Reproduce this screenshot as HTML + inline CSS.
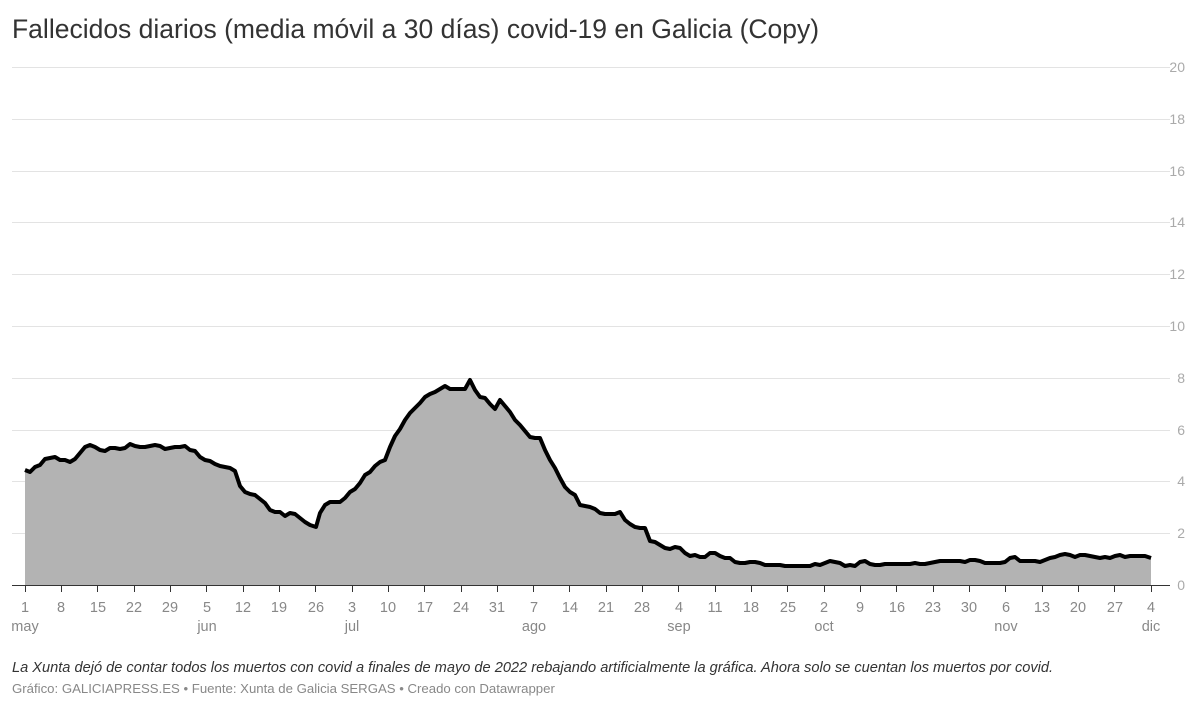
<!DOCTYPE html>
<html><head><meta charset="utf-8"><style>
body{margin:0;background:#fff;width:1199px;height:709px;overflow:hidden;font-family:"Liberation Sans",sans-serif}
</style></head><body>
<svg width="1199" height="709" xmlns="http://www.w3.org/2000/svg" font-family="Liberation Sans, sans-serif">
<text x="12" y="38" font-size="26.5" fill="#333">Fallecidos diarios (media móvil a 30 días) covid-19 en Galicia (Copy)</text>
<g stroke="#e3e3e3" stroke-width="1">
<line x1="12" x2="1170" y1="67.5" y2="67.5"/><line x1="12" x2="1170" y1="119.5" y2="119.5"/>
<line x1="12" x2="1170" y1="171.5" y2="171.5"/><line x1="12" x2="1170" y1="222.5" y2="222.5"/>
<line x1="12" x2="1170" y1="274.5" y2="274.5"/><line x1="12" x2="1170" y1="326.5" y2="326.5"/>
<line x1="12" x2="1170" y1="378.5" y2="378.5"/><line x1="12" x2="1170" y1="430.5" y2="430.5"/>
<line x1="12" x2="1170" y1="481.5" y2="481.5"/><line x1="12" x2="1170" y1="533.5" y2="533.5"/>
</g>
<g font-size="14" fill="#aaa" text-anchor="end">
<text x="1185" y="72">20</text><text x="1185" y="124">18</text><text x="1185" y="176">16</text>
<text x="1185" y="227">14</text><text x="1185" y="279">12</text><text x="1185" y="331">10</text>
<text x="1185" y="383">8</text><text x="1185" y="435">6</text><text x="1185" y="486">4</text>
<text x="1185" y="538">2</text><text x="1185" y="590">0</text>
</g>
<polygon fill="#b3b3b3" points="25,585 25,470 30,472 35,467 40,465 45,459 50,458 55,457 60,460 65,460 70,462 75,459 80,453 85,447 90,445 95,447 100,450 105,451 110,448 115,448 120,449 125,448 130,444 135,446 140,447 145,447 150,446 155,445 160,446 165,449 170,448 175,447 180,447 185,446 190,450 195,451 200,457 205,460 210,461 215,464 220,466 225,467 230,468 235,471 240,486 245,492 250,494 255,495 260,499 265,503 270,510 275,512 280,512 285,516 290,513 295,514 300,518 305,522 310,525 316,527 320,513 325,505 330,502 335,502 340,502 345,498 350,492 355,489 360,483 365,475 370,472 375,466 380,462 385,460 390,447 395,436 400,429 405,420 410,413 415,408 420,403 425,397 430,394 435,392 440,389 445,386 450,389 455,389 460,389 465,389 470,380 475,390 480,397 485,398 490,404 495,409 500,400 505,406 510,412 515,420 520,425 525,431 530,437 535,438 540,438 545,450 550,460 555,468 560,478 565,487 570,492 575,495 580,505 585,506 590,507 595,509 600,513 605,514 615,514 620,512 625,520 630,524 635,527 640,528 645,528 650,541 655,542 660,545 665,548 670,549 675,547 680,548 685,553 690,556 695,555 700,557 705,557 710,553 715,553 720,556 725,558 730,558 735,562 740,563 745,563 750,562 755,562 760,563 765,565 770,565 775,565 780,565 785,566 790,566 795,566 800,566 805,566 810,566 815,564 820,565 825,563 830,561 835,562 840,563 845,566 850,565 855,566 860,562 865,561 870,564 875,565 880,565 885,564 900,564 910,564 915,563 920,564 925,564 930,563 935,562 940,561 960,561 965,562 970,560 975,560 980,561 985,563 1000,563 1005,562 1010,558 1015,557 1020,561 1035,561 1040,562 1045,560 1050,558 1055,557 1060,555 1065,554 1070,555 1075,557 1080,555 1085,555 1090,556 1095,557 1100,558 1105,557 1110,558 1115,556 1120,555 1125,557 1130,556 1145,556 1151,558 1151,585"/>
<polyline fill="none" stroke="#000" stroke-width="4" stroke-linejoin="round" points="25,470 30,472 35,467 40,465 45,459 50,458 55,457 60,460 65,460 70,462 75,459 80,453 85,447 90,445 95,447 100,450 105,451 110,448 115,448 120,449 125,448 130,444 135,446 140,447 145,447 150,446 155,445 160,446 165,449 170,448 175,447 180,447 185,446 190,450 195,451 200,457 205,460 210,461 215,464 220,466 225,467 230,468 235,471 240,486 245,492 250,494 255,495 260,499 265,503 270,510 275,512 280,512 285,516 290,513 295,514 300,518 305,522 310,525 316,527 320,513 325,505 330,502 335,502 340,502 345,498 350,492 355,489 360,483 365,475 370,472 375,466 380,462 385,460 390,447 395,436 400,429 405,420 410,413 415,408 420,403 425,397 430,394 435,392 440,389 445,386 450,389 455,389 460,389 465,389 470,380 475,390 480,397 485,398 490,404 495,409 500,400 505,406 510,412 515,420 520,425 525,431 530,437 535,438 540,438 545,450 550,460 555,468 560,478 565,487 570,492 575,495 580,505 585,506 590,507 595,509 600,513 605,514 615,514 620,512 625,520 630,524 635,527 640,528 645,528 650,541 655,542 660,545 665,548 670,549 675,547 680,548 685,553 690,556 695,555 700,557 705,557 710,553 715,553 720,556 725,558 730,558 735,562 740,563 745,563 750,562 755,562 760,563 765,565 770,565 775,565 780,565 785,566 790,566 795,566 800,566 805,566 810,566 815,564 820,565 825,563 830,561 835,562 840,563 845,566 850,565 855,566 860,562 865,561 870,564 875,565 880,565 885,564 900,564 910,564 915,563 920,564 925,564 930,563 935,562 940,561 960,561 965,562 970,560 975,560 980,561 985,563 1000,563 1005,562 1010,558 1015,557 1020,561 1035,561 1040,562 1045,560 1050,558 1055,557 1060,555 1065,554 1070,555 1075,557 1080,555 1085,555 1090,556 1095,557 1100,558 1105,557 1110,558 1115,556 1120,555 1125,557 1130,556 1145,556 1151,558"/>
<line x1="12" x2="1170" y1="585.5" y2="585.5" stroke="#333" stroke-width="1"/>
<g stroke="#333" stroke-width="1">
<path d="M25.5 586v6M61.5 586v6M97.5 586v6M134.5 586v6M170.5 586v6M206.5 586v6M243.5 586v6M279.5 586v6M315.5 586v6M352.5 586v6M388.5 586v6M424.5 586v6M461.5 586v6M497.5 586v6M533.5 586v6M569.5 586v6M606.5 586v6M642.5 586v6M678.5 586v6M715.5 586v6M751.5 586v6M787.5 586v6M824.5 586v6M860.5 586v6M896.5 586v6M933.5 586v6M969.5 586v6M1005.5 586v6M1042.5 586v6M1078.5 586v6M1114.5 586v6M1151.5 586v6"/>
</g>
<g font-size="14.5" fill="#888" text-anchor="middle">
<text x="25" y="612">1</text><text x="61" y="612">8</text><text x="98" y="612">15</text><text x="134" y="612">22</text><text x="170" y="612">29</text><text x="207" y="612">5</text><text x="243" y="612">12</text><text x="279" y="612">19</text><text x="316" y="612">26</text><text x="352" y="612">3</text><text x="388" y="612">10</text><text x="425" y="612">17</text><text x="461" y="612">24</text><text x="497" y="612">31</text><text x="534" y="612">7</text><text x="570" y="612">14</text><text x="606" y="612">21</text><text x="642" y="612">28</text><text x="679" y="612">4</text><text x="715" y="612">11</text><text x="751" y="612">18</text><text x="788" y="612">25</text><text x="824" y="612">2</text><text x="860" y="612">9</text><text x="897" y="612">16</text><text x="933" y="612">23</text><text x="969" y="612">30</text><text x="1006" y="612">6</text><text x="1042" y="612">13</text><text x="1078" y="612">20</text><text x="1115" y="612">27</text><text x="1151" y="612">4</text>
<text x="25" y="631">may</text><text x="207" y="631">jun</text><text x="352" y="631">jul</text><text x="534" y="631">ago</text><text x="679" y="631">sep</text><text x="824" y="631">oct</text><text x="1006" y="631">nov</text><text x="1151" y="631">dic</text>
</g>
<text x="12" y="672" font-size="14.6" font-style="italic" fill="#333">La Xunta dejó de contar todos los muertos con covid a finales de mayo de 2022 rebajando artificialmente la gráfica. Ahora solo se cuentan los muertos por covid.</text>
<text x="12" y="693" font-size="13.2" fill="#888">Gráfico: GALICIAPRESS.ES • Fuente: Xunta de Galicia SERGAS • Creado con Datawrapper</text>
</svg>
</body></html>
